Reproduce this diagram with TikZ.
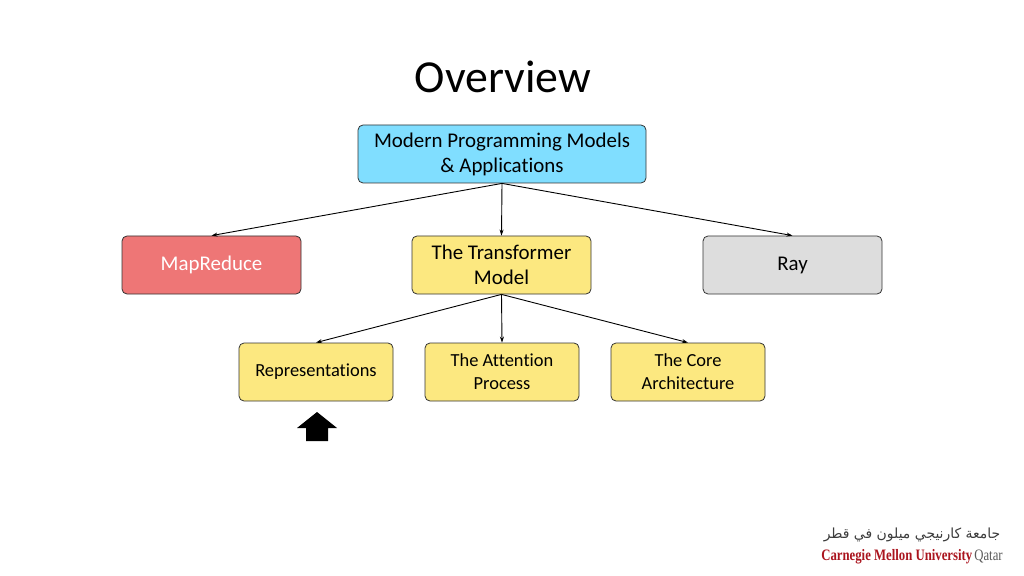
\documentclass[tikz,border=0pt]{standalone}
\usepackage{fontspec}
\setmainfont{Carlito}[Ligatures=NoCommon]
\newfontfamily\logofont{Liberation Serif}
\newfontfamily\arabfont[Script=Arabic]{DejaVu Sans}
\usetikzlibrary{arrows.meta}
\TeXXeTstate=1
\begin{document}
\begin{tikzpicture}[x=1bp,y=-1bp,
  box/.style={draw=black!80,rounded corners=5bp,line width=0.8bp,minimum height=58bp,align=center,font=\fontsize{21}{25}\selectfont,inner sep=2bp},
  small/.style={font=\fontsize{18.5}{23}\selectfont},
  conn/.style={-{Stealth[length=6bp,width=4bp]},line width=0.9bp}]
\useasboundingbox (0,0) rectangle (1024,576);
\node[font=\fontsize{46}{50}\selectfont] (title) at (503,77) {Overview};
\node[box,fill={rgb,255:red,128;green,222;blue,255},minimum width=288bp] (top) at (502,154) {Modern Programming Models\\\& Applications};
\node[box,fill={rgb,255:red,238;green,118;blue,118},minimum width=179bp,text=white] (mr) at (211.5,265) {MapReduce};
\node[box,fill={rgb,255:red,252;green,232;blue,128},minimum width=179bp] (tm) at (501.5,265) {The Transformer\\Model};
\node[box,fill={rgb,255:red,221;green,221;blue,221},minimum width=179bp] (ray) at (792.5,265) {Ray};
\node[box,small,fill={rgb,255:red,252;green,232;blue,128},minimum width=154bp] (rep) at (316,372) {Representations};
\node[box,small,fill={rgb,255:red,252;green,232;blue,128},minimum width=154bp] (att) at (502,372) {The Attention\\Process};
\node[box,small,fill={rgb,255:red,252;green,232;blue,128},minimum width=154bp] (core) at (688,372) {The Core\\Architecture};
\draw[conn] (top.south) -- (mr.north);
\draw[conn] (top.south) -- (tm.north);
\draw[conn] (top.south) -- (ray.north);
\draw[conn] (tm.south) -- (rep.north);
\draw[conn] (tm.south) -- (att.north);
\draw[conn] (tm.south) -- (core.north);
\fill[black] (297,428) -- (317,412) -- (337,428) -- (328,428) -- (328,441) -- (306,441) -- (306,428) -- cycle;
\node[font=\arabfont\fontsize{14}{14}\selectfont,text={rgb,255:red,60;green,60;blue,60}] (ar) at (912,535) {\beginR جامعة كارنيجي ميلون في قطر\endR};
\node[font=\logofont\fontsize{16}{16}\selectfont,inner sep=0,xscale=0.8] (cmu) at (912,557) {\textcolor[RGB]{170,20,30}{\textbf{Carnegie Mellon University}}\,\textcolor[RGB]{90,90,90}{Qatar}};
\end{tikzpicture}
\end{document}
